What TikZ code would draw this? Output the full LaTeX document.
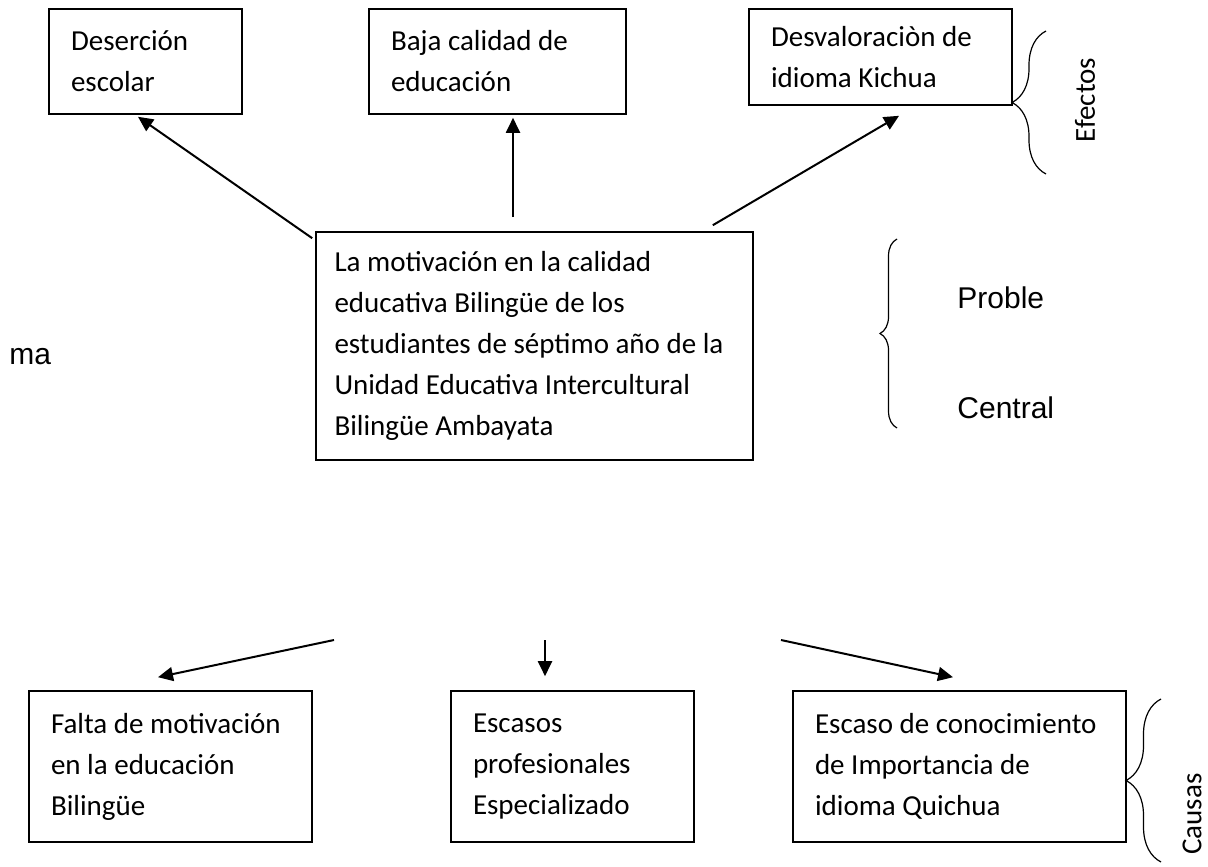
\documentclass[tikz,border=0pt]{standalone}
\usepackage{fontspec}
\setmainfont{Carlito}
\newfontfamily\arialfont{Liberation Sans}
\usepackage{tikz}
\usetikzlibrary{arrows.meta}
\usetikzlibrary{decorations.pathreplacing}
\tikzset{x=0.5pt, y=-0.5pt, % One unit is one pixel of the scanned tree, y runs down
caja/.style={ % Sets the properties for each box
draw,
line width=0.8pt,
align=flush left,
inner xsep=11pt, inner ysep=0pt,
font=\fontsize{14.5}{20.5}\selectfont},
rotulo/.style={ % Side labels (Efectos, Causas)
inner sep=0pt,
font=\fontsize{14.5}{17}\selectfont},
rotuloarial/.style={ % Labels of the central problem
anchor=base west,
inner sep=0pt,
font=\arialfont\fontsize{15}{18}\selectfont},
llave/.style={ % Curly brace, #1 is the amplitude
decorate,
decoration={brace, amplitude=#1},
line width=0.6pt},
every edge/.style={ % Sets the properties for each arrow
draw,
-{Triangle[length=7.5pt,width=7pt]},
line width=1pt}}

\begin{document}
\begin{tikzpicture}
	\useasboundingbox (0,0) rectangle (1208,866);

	\node[caja, text width=74.5pt, minimum height=52.5pt] (efe1) at (145.5,61.5) {Deserción\\escolar};
	\node[caja, text width=106.5pt, minimum height=52.5pt] (efe2) at (497.5,61.5) {Baja calidad de\\educación};
	\node[caja, text width=109.5pt, minimum height=48pt] (efe3) at (880.5,57) {Desvaloraciòn de\\idioma Kichua};

	\node[caja, inner xsep=9.25pt, text width=200pt, minimum height=114pt] (cen) at (534.5,346) {La motivación en la calidad\\educativa Bilingüe de los\\estudiantes de séptimo año de la\\Unidad Educativa Intercultural\\Bilingüe Ambayata};

	\node[caja, text width=119.5pt, minimum height=75.5pt] (cau1) at (170.5,766.5) {Falta de motivación\\en la educación\\Bilingüe};
	\node[caja, text width=99.5pt, minimum height=75.5pt] (cau2) at (572.5,766.5) {Escasos\\profesionales\\Especializado};
	\node[caja, text width=144.5pt, minimum height=75.5pt] (cau3) at (959.5,766.5) {Escaso de conocimiento\\de Importancia de\\idioma Quichua};

	\node[rotulo, rotate=90] (efectos) at (1085,100) {Efectos};
	\node[rotulo, rotate=90] (causas) at (1192,814) {Causas};
	\node[rotuloarial] (proble) at (957,308) {Proble};
	\node[rotuloarial] (central) at (957,418) {Central};
	\node[rotuloarial] (ma) at (9,364) {ma};

	\coordinate (o1) at (334,640);
	\coordinate (o2) at (545,640);
	\coordinate (o3) at (781,640);

	\draw ([shift={(-3,7)}]cen.north west) edge ([shift={(-7.5,2)}]efe1.south);
	\draw ([shift={(-21.5,-14)}]cen.north) edge ([shift={(15.5,3)}]efe2.south);
	\draw ([shift={(-41,-6)}]cen.north east) edge ([shift={(18.5,10)}]efe3.south);

	\draw (o1) edge ([shift={(-12.5,-13)}]cau1.north);
	\draw (o2) edge ([shift={(-27.5,-14)}]cau2.north);
	\draw (o3) edge ([shift={(-6.5,-13)}]cau3.north);

	\draw[llave=17pt] (1046,174) -- (1046,31);
	\draw[llave=8.5pt] (897,428) -- (897,239);
	\draw[llave=17.5pt] (1161,862) -- (1161,699);
\end{tikzpicture}
\end{document}
